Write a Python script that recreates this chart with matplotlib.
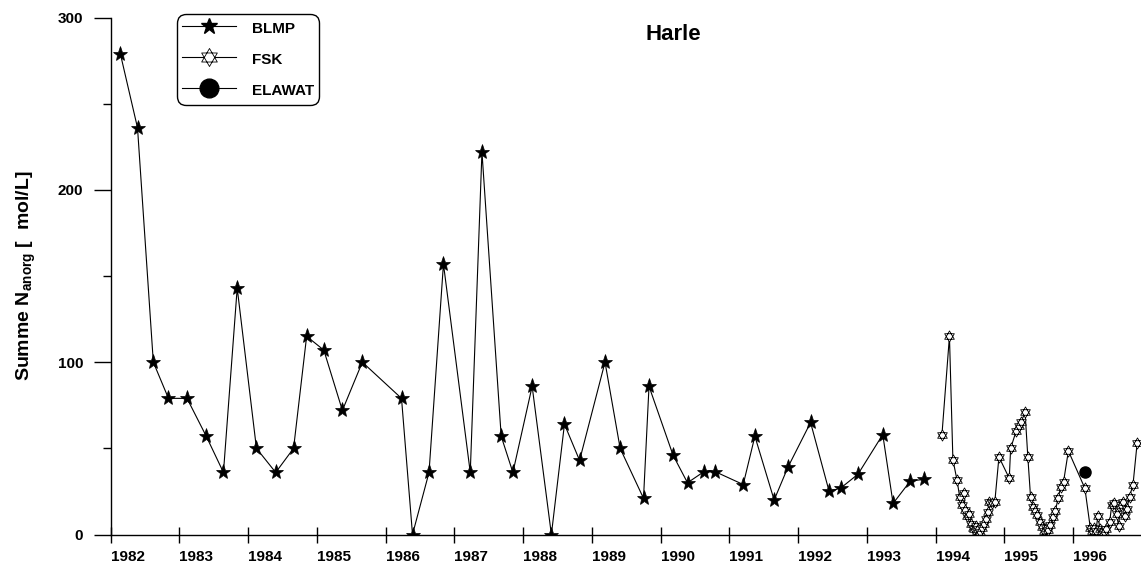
import numpy as np
import matplotlib
matplotlib.use('Agg')
import matplotlib.pyplot as plt
from matplotlib.path import Path
from matplotlib.lines import Line2D
from matplotlib.ticker import MultipleLocator

plt.rcParams['font.family'] = ['Liberation Sans', 'DejaVu Sans']
plt.rcParams['font.weight'] = 'bold'
plt.rcParams['mathtext.default'] = 'regular'

# BLMP (filled stars)
blmp_t = [1982.14, 1982.39, 1982.62, 1982.84, 1983.11, 1983.39, 1983.64, 1983.84,
          1984.12, 1984.40, 1984.66, 1984.85, 1985.10, 1985.37, 1985.66, 1986.23,
          1986.39, 1986.63, 1986.84, 1987.23, 1987.40, 1987.68, 1987.85, 1988.13,
          1988.41, 1988.60, 1988.82, 1989.19, 1989.41, 1989.75, 1989.83, 1990.18,
          1990.39, 1990.63, 1990.79, 1991.20, 1991.37, 1991.65, 1991.85, 1992.18,
          1992.45, 1992.62, 1992.87, 1993.23, 1993.38, 1993.63, 1993.83]
blmp_v = [279, 236, 100, 79, 79, 57, 36, 143,
          50, 36, 50, 115, 107, 72, 100, 79,
          0, 36, 157, 36, 222, 57, 36, 86,
          0, 64, 43, 100, 50, 21, 86, 46,
          30, 36.5, 36.5, 29, 57, 20, 39, 65,
          25, 27, 35, 58, 18, 31, 32]

# FSK (open hexagrams)
fsk_t = [1994.09, 1994.20, 1994.25, 1994.31, 1994.35, 1994.38, 1994.41, 1994.43,
         1994.46, 1994.49, 1994.52, 1994.54, 1994.56, 1994.58, 1994.60, 1994.62,
         1994.64, 1994.67, 1994.70, 1994.73, 1994.76, 1994.78, 1994.82, 1994.86,
         1994.92, 1995.07, 1995.09, 1995.17, 1995.21, 1995.24, 1995.30, 1995.34,
         1995.38, 1995.42, 1995.45, 1995.48, 1995.51, 1995.54, 1995.57, 1995.60,
         1995.63, 1995.66, 1995.70, 1995.74, 1995.78, 1995.82, 1995.86, 1995.93,
         1996.17, 1996.25, 1996.28, 1996.30, 1996.33, 1996.36, 1996.39, 1996.42,
         1996.45, 1996.48, 1996.53, 1996.56, 1996.60, 1996.63, 1996.66, 1996.69,
         1996.72, 1996.75, 1996.78, 1996.82, 1996.87, 1996.93]
fsk_v = [57.5, 115, 43.5, 31.5, 21.5, 17, 24, 14,
         11, 12, 6, 4, 3, 5, 2, 3,
         1.5, 4, 6, 9, 13, 19, 18, 19,
         45, 32.6, 50, 60, 63, 65, 71, 45,
         21.6, 15.8, 13.6, 11.3, 7.4, 4.5, 2, 3.5,
         2.5, 5.5, 10, 13.6, 21, 27.8, 30.7, 48.5,
         26.8, 3.5, 2, 4, 2, 11, 3, 2,
         1.5, 3, 7, 17, 18, 12, 5, 17,
         19, 11, 15, 22, 29, 53]

# ELAWAT (filled circle)
elawat_t = [1996.17]
elawat_v = [36.5]

years = list(range(1982, 1997))

# star-of-david marker: two overlapping triangles
a = np.radians([90, 210, 330])
up = np.column_stack([np.cos(a), np.sin(a)])
down = -up
verts = np.vstack([up, up[:1], down, down[:1]])
codes = [Path.MOVETO, Path.LINETO, Path.LINETO, Path.CLOSEPOLY] * 2
hexagram = Path(verts, codes)

fig = plt.figure(figsize=(11.41, 5.62), dpi=100)
ax = fig.add_axes([110.7 / 1141, 1 - 534.5 / 562, 1030.3 / 1141, 517 / 562])

ax.plot(blmp_t, blmp_v, color='black', lw=0.8, marker='*', ms=11,
        mfc='black', mec='black', mew=0.5)
ax.plot(fsk_t, fsk_v, color='black', lw=0.8, marker=hexagram, ms=8,
        mfc='white', mec='black', mew=0.6)
ax.plot(elawat_t, elawat_v, color='black', lw=0.8, marker='o', ms=8,
        mfc='black', mec='black', linestyle='none')

ax.set_xlim(1982, 1982 + 1030.3 / 68.75)
ax.set_ylim(0, 300)
ax.spines['top'].set_visible(False)
ax.spines['right'].set_visible(False)
for s in ['left', 'bottom']:
    ax.spines[s].set_linewidth(1.0)

ax.set_xticks(years)
ax.set_xticklabels([str(y) for y in years], fontsize=11, fontweight='bold')
for lab in ax.get_xticklabels():
    lab.set_horizontalalignment('left')
ax.set_yticks([0, 100, 200, 300])
ax.set_yticklabels(['0', '100', '200', '300'], fontsize=11, fontweight='bold')
ax.yaxis.set_minor_locator(MultipleLocator(50))
ax.tick_params(axis='x', direction='inout', length=12.2, width=1, pad=4.8)
ax.tick_params(axis='y', which='major', direction='out', length=12.2, width=1, pad=7.5)
ax.tick_params(axis='y', which='minor', direction='out', length=6, width=1)

fig.text(673 / 1141, 1 - 34 / 562, 'Harle', fontsize=16, fontweight='bold',
         ha='center', va='center')
fig.text(26 / 1141, 1 - 276 / 562, 'Summe N$_{anorg}$ [  mol/L]', fontsize=14,
         fontweight='bold', rotation=90, ha='center', va='center')

handles = [
    Line2D([], [], color='black', lw=0.8, marker='*', ms=12, mfc='black', mec='black'),
    Line2D([], [], color='black', lw=0.8, marker=hexagram, ms=13, mfc='white',
           mec='black', mew=0.6),
    Line2D([], [], color='black', lw=0.8, marker='o', ms=13.5, mfc='black', mec='black'),
]
leg = ax.legend(handles, ['BLMP', 'FSK', 'ELAWAT'], loc='upper left',
                bbox_to_anchor=(177 / 1141, 1 - 14 / 562), bbox_transform=fig.transFigure,
                borderaxespad=0, prop={'weight': 'bold', 'size': 11},
                handlelength=3.5, handleheight=1.5, handletextpad=1.1,
                labelspacing=0.81, borderpad=0.33, fancybox=True, framealpha=1,
                edgecolor='black')
leg.get_frame().set_linewidth(1.0)
leg.get_frame().set_boxstyle('round', pad=0, rounding_size=0.6)

fig.savefig('out.png', dpi=100)
